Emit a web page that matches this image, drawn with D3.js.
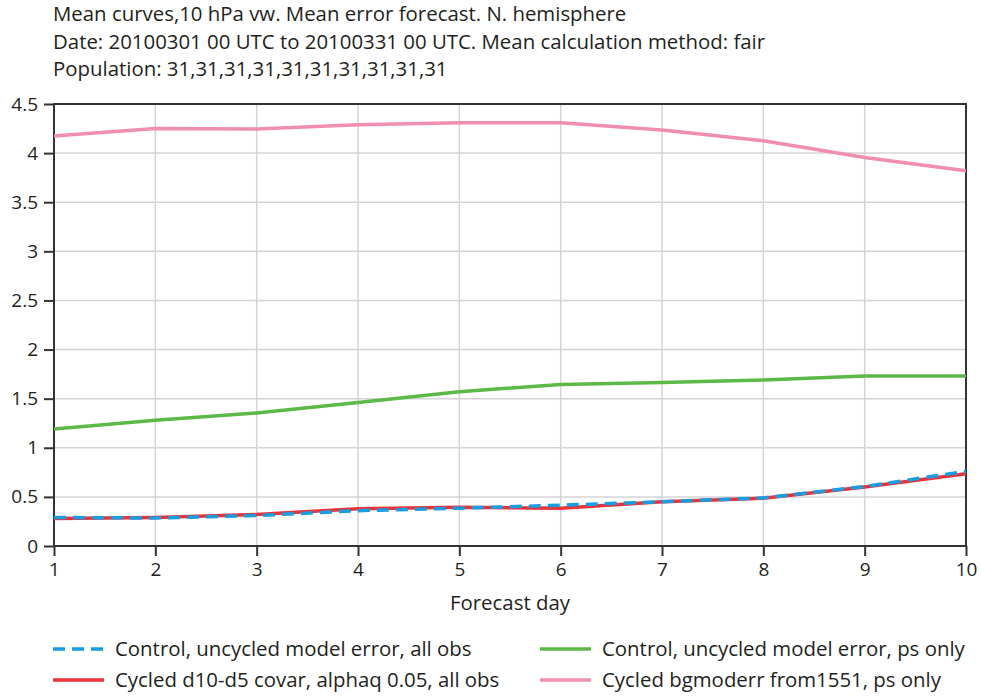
<!DOCTYPE html>
<html>
<head>
<meta charset="utf-8">
<script src="https://cdn.jsdelivr.net/npm/d3@7"></script>
<style>
  html, body { margin: 0; padding: 0; background: #fff; }
  svg text { font-family: "Open Sans", "Noto Sans", sans-serif; fill: #231f20; }
</style>
</head>
<body>
<svg id="chart" width="981" height="697"></svg>
<script>
// Forecast days and y tick values
const days = [1, 2, 3, 4, 5, 6, 7, 8, 9, 10];
const yTicks = [0, 0.5, 1, 1.5, 2, 2.5, 3, 3.5, 4, 4.5];

// Mean error per forecast day for each experiment
const controlAllObs   = [0.29, 0.285, 0.31, 0.36, 0.385, 0.415, 0.45, 0.49, 0.605, 0.76];
const cycledAllObs    = [0.28, 0.29, 0.32, 0.38, 0.395, 0.385, 0.45, 0.485, 0.60, 0.735];
const controlPsOnly   = [1.19, 1.28, 1.355, 1.46, 1.57, 1.645, 1.665, 1.69, 1.73, 1.73];
const cycledBgPsOnly  = [4.175, 4.25, 4.245, 4.29, 4.31, 4.31, 4.235, 4.125, 3.955, 3.82];

const titleLines = [
  "Mean curves,10 hPa vw. Mean error forecast. N. hemisphere",
  "Date: 20100301 00 UTC to 20100331 00 UTC. Mean calculation method: fair",
  "Population: 31,31,31,31,31,31,31,31,31,31"
];

const series = [
  { name: "Cycled bgmoderr from1551, ps only", values: cycledBgPsOnly, color: "#f08db2", dash: null },
  { name: "Control, uncycled model error, ps only", values: controlPsOnly, color: "#5cb947", dash: null },
  { name: "Cycled d10-d5 covar, alphaq 0.05, all obs", values: cycledAllObs, color: "#ec3239", dash: null },
  { name: "Control, uncycled model error, all obs", values: controlAllObs, color: "#159ee1", dash: "12,7" }
];
const legendOrder = [
  "Control, uncycled model error, all obs",
  "Cycled d10-d5 covar, alphaq 0.05, all obs",
  "Control, uncycled model error, ps only",
  "Cycled bgmoderr from1551, ps only"
];

const svg = d3.select("#chart");
const margin = { left: 54, right: 15, top: 104, bottom: 151 };
const W = 981, H = 697;
const x = d3.scaleLinear().domain([1, 10]).range([margin.left, W - margin.right]);
const y = d3.scaleLinear().domain([0, 4.5]).range([H - margin.bottom, margin.top]);

// Title
svg.append("g").selectAll("text").data(titleLines).join("text")
  .attr("x", 53).attr("y", (d, i) => 21 + i * 27.5)
  .attr("font-size", 20.4).text(d => d);

// Grid
const grid = svg.append("g").attr("stroke", "#d4d4d4").attr("stroke-width", 1.5);
grid.selectAll("line.h").data(yTicks.slice(1, -1)).join("line")
  .attr("x1", x(1)).attr("x2", x(10)).attr("y1", d => y(d)).attr("y2", d => y(d));
grid.selectAll("line.v").data(days.slice(1, -1)).join("line")
  .attr("y1", y(0)).attr("y2", y(4.5)).attr("x1", d => x(d)).attr("x2", d => x(d));

// Frame
svg.append("rect")
  .attr("x", x(1)).attr("y", y(4.5))
  .attr("width", x(10) - x(1)).attr("height", y(0) - y(4.5))
  .attr("fill", "none").attr("stroke", "#333").attr("stroke-width", 2);

// Axes
const yAxis = svg.append("g").attr("transform", `translate(${x(1)},0)`)
  .call(d3.axisLeft(y).tickValues(yTicks).tickSize(10).tickPadding(6).tickFormat(d3.format("")));
const xAxis = svg.append("g").attr("transform", `translate(0,${y(0)})`)
  .call(d3.axisBottom(x).tickValues(days).tickSize(10).tickPadding(7).tickFormat(d3.format("d")));
[yAxis, xAxis].forEach(a => {
  a.select(".domain").remove();
  a.selectAll(".tick line").attr("stroke", "#333").attr("stroke-width", 2);
  a.selectAll(".tick text").attr("font-size", 19).attr("font-family", "Open Sans, sans-serif").attr("fill", "#231f20");
});

svg.append("text").attr("x", (x(1) + x(10)) / 2).attr("y", 610)
  .attr("text-anchor", "middle").attr("font-size", 20.4).text("Forecast day");

// Curves
const line = d3.line().x((d, i) => x(days[i])).y(d => y(d));
svg.append("g").selectAll("path").data(series).join("path")
  .attr("d", d => line(d.values))
  .attr("fill", "none")
  .attr("stroke", d => d.color)
  .attr("stroke-width", 3.5)
  .attr("stroke-dasharray", d => d.dash);

// Legend
const legendPos = [[53, 649], [53, 680], [540, 649], [540, 680]];
const lg = svg.append("g").selectAll("g").data(legendOrder).join("g")
  .attr("transform", (d, i) => `translate(${legendPos[i][0]},${legendPos[i][1]})`);
lg.append("line").attr("x1", 0).attr("x2", 51).attr("y1", 0).attr("y2", 0)
  .attr("stroke", d => series.find(s => s.name === d).color)
  .attr("stroke-width", 3.5)
  .attr("stroke-dasharray", d => series.find(s => s.name === d).dash);
lg.append("text").attr("x", 62).attr("y", 7).attr("font-size", 20.4).text(d => d);
</script>
</body>
</html>
